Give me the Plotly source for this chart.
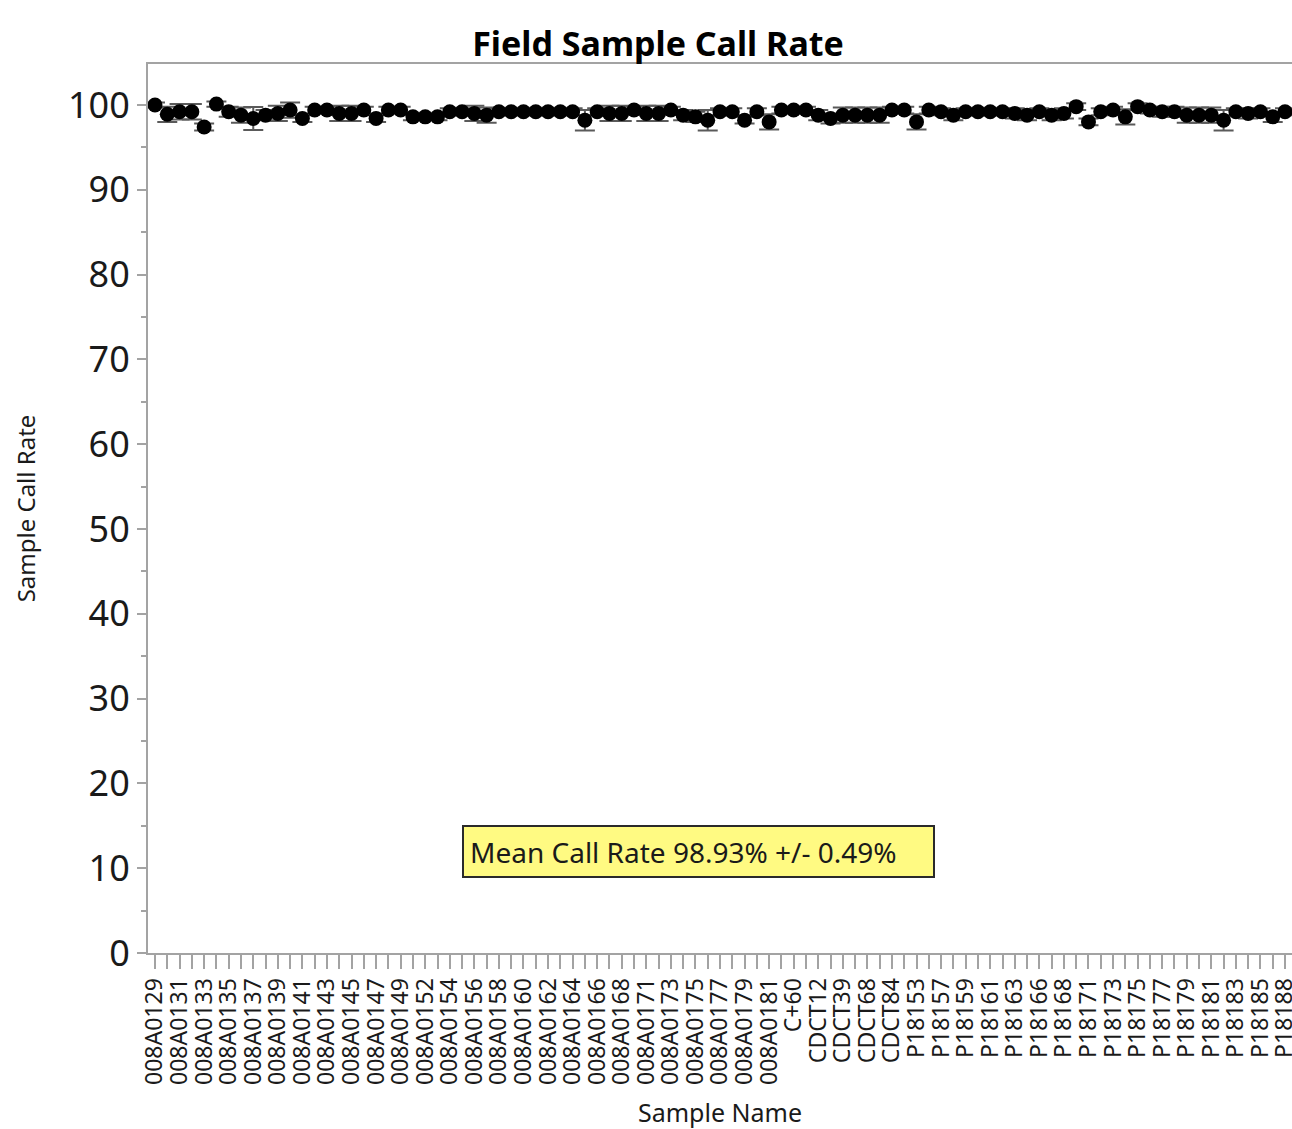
import plotly.graph_objects as go

# ---------------- data ----------------
samples = [
    "008A0129", "008A0130", "008A0131", "008A0132", "008A0133", "008A0134", "008A0135", "008A0136",
    "008A0137", "008A0138", "008A0139", "008A0140", "008A0141", "008A0142", "008A0143", "008A0144",
    "008A0145", "008A0146", "008A0147", "008A0148", "008A0149", "008A0150", "008A0152", "008A0153",
    "008A0154", "008A0155", "008A0156", "008A0157", "008A0158", "008A0159", "008A0160", "008A0161",
    "008A0162", "008A0163", "008A0164", "008A0165", "008A0166", "008A0167", "008A0168", "008A0169",
    "008A0171", "008A0172", "008A0173", "008A0174", "008A0175", "008A0176", "008A0177", "008A0178",
    "008A0179", "008A0180", "008A0181", "008A0182", "C+60", "C-60", "CDCT12", "CDCT25",
    "CDCT39", "CDCT52", "CDCT68", "CDCT75", "CDCT84", "P18152", "P18153", "P18155",
    "P18157", "P18158", "P18159", "P18160", "P18161", "P18162", "P18163", "P18164",
    "P18166", "P18167", "P18168", "P18170", "P18171", "P18172", "P18173", "P18174",
    "P18175", "P18176", "P18177", "P18178", "P18179", "P18180", "P18181", "P18182",
    "P18183", "P18184", "P18185", "P18186", "P18188",
]

call_rate = [
    100.0, 98.9, 99.2, 99.2, 97.4, 100.1, 99.2, 98.8, 98.4, 98.8,
    99.0, 99.4, 98.4, 99.4, 99.4, 99.0, 99.0, 99.4, 98.4, 99.4,
    99.4, 98.6, 98.6, 98.6, 99.2, 99.2, 99.0, 98.8, 99.2, 99.2,
    99.2, 99.2, 99.2, 99.2, 99.2, 98.2, 99.2, 99.0, 99.0, 99.4,
    99.0, 99.0, 99.4, 98.8, 98.6, 98.2, 99.2, 99.2, 98.2, 99.2,
    98.0, 99.4, 99.4, 99.4, 98.8, 98.4, 98.8, 98.8, 98.8, 98.8,
    99.4, 99.4, 98.0, 99.4, 99.2, 98.8, 99.2, 99.2, 99.2, 99.2,
    99.0, 98.8, 99.2, 98.8, 99.0, 99.8, 98.0, 99.2, 99.4, 98.6,
    99.8, 99.4, 99.2, 99.2, 98.8, 98.8, 98.8, 98.2, 99.2, 99.0,
    99.2, 98.6, 99.2,
]

call_rate_err = [
    0.3, 0.9, 0.9, 0.9, 0.4, 0.3, 0.6, 0.9, 1.35, 0.6,
    0.9, 0.9, 0.4, 0.4, 0.4, 0.9, 0.9, 0.4, 0.4, 0.4,
    0.4, 0.4, 0.4, 0.4, 0.4, 0.4, 0.9, 0.9, 0.4, 0.4,
    0.4, 0.4, 0.4, 0.4, 0.4, 1.2, 0.4, 0.9, 0.9, 0.4,
    0.9, 0.9, 0.4, 0.6, 0.6, 1.2, 0.4, 0.4, 0.4, 0.4,
    0.9, 0.4, 0.4, 0.4, 0.6, 0.6, 0.9, 0.9, 0.9, 0.9,
    0.4, 0.4, 0.9, 0.4, 0.4, 0.6, 0.4, 0.4, 0.4, 0.4,
    0.6, 0.6, 0.4, 0.6, 0.6, 0.4, 0.4, 0.4, 0.4, 0.9,
    0.4, 0.4, 0.6, 0.6, 0.9, 0.9, 0.9, 1.2, 0.4, 0.6,
    0.4, 0.6, 0.4,
]

# every other sample name is printed under the axis
tick_text = [s if i % 2 == 0 else "" for i, s in enumerate(samples)]

title_text = "Field Sample Call Rate"
x_title = "Sample Name"
y_title = "Sample Call Rate"
note_text = "Mean Call Rate 98.93% +/- 0.49%"

FONT = "Noto Sans"
AXIS_GRAY = "#a3a3a3"
W, H = 1292, 1129

fig = go.Figure()
fig.add_trace(go.Scatter(
    x=samples,
    y=call_rate,
    mode="markers",
    marker=dict(color="black", size=15, line=dict(width=0)),
    error_y=dict(type="data", array=call_rate_err, visible=True,
                 color="#5a5a5a", thickness=2, width=10),
    showlegend=False,
))

fig.update_layout(
    width=W, height=H, autosize=False,
    margin=dict(l=148, r=0, t=64, b=H - 953),
    paper_bgcolor="white", plot_bgcolor="white",
    font=dict(family=FONT, color="#1a1a1a"),
    title=dict(text="<b>" + title_text + "</b>", x=658 / W, xref="container", xanchor="center",
               y=1 - 44 / H, yref="container", yanchor="middle",
               font=dict(family=FONT, size=34, color="black")),
)

fig.update_xaxes(
    type="category", automargin=False,
    range=[-0.57, 92.57],
    tickmode="array", tickvals=samples, ticktext=tick_text,
    tickangle=-90,
    ticks="outside", ticklen=14, tickcolor=AXIS_GRAY, tickwidth=1.5,
    tickfont=dict(family=FONT, size=23, color="#1a1a1a"),
    showline=True, linecolor=AXIS_GRAY, linewidth=2, mirror=True,
    showgrid=False, zeroline=False,
    title=dict(text=x_title, font=dict(family=FONT, size=25, color="#1a1a1a"), standoff=22),
)

fig.update_yaxes(
    automargin=False,
    range=[0, 104.83],
    tickmode="linear", tick0=0, dtick=10,
    ticks="outside", ticklen=9, tickcolor=AXIS_GRAY, tickwidth=1.5,
    minor=dict(dtick=5, tick0=0, ticks="outside", ticklen=5, tickcolor=AXIS_GRAY, tickwidth=1.5),
    tickfont=dict(family=FONT, size=36, color="#1a1a1a"),
    showline=True, linecolor=AXIS_GRAY, linewidth=2,
    showgrid=False, zeroline=False,
    title=dict(text=y_title, font=dict(family=FONT, size=24, color="#1a1a1a"), standoff=26),
)

fig.add_annotation(
    xref="paper", yref="paper",
    x=(462 - 148) / 1144, y=(953 - 851.5) / 889,
    xanchor="left", yanchor="middle",
    text=note_text, showarrow=False, align="left",
    width=457, height=37,
    bgcolor="#fffa82", bordercolor="#2a2a2a", borderwidth=2, borderpad=6,
    font=dict(family=FONT, size=28, color="#1a1a1a"),
)

# remove the browser's default 8px body margin so the figure sits at (0, 0)
post = (
    "document.body.style.margin='0';"
    "document.body.style.overflow='hidden';"
)
fig.write_html("out.html", post_script=post,
               config={"displayModeBar": False, "responsive": False})
